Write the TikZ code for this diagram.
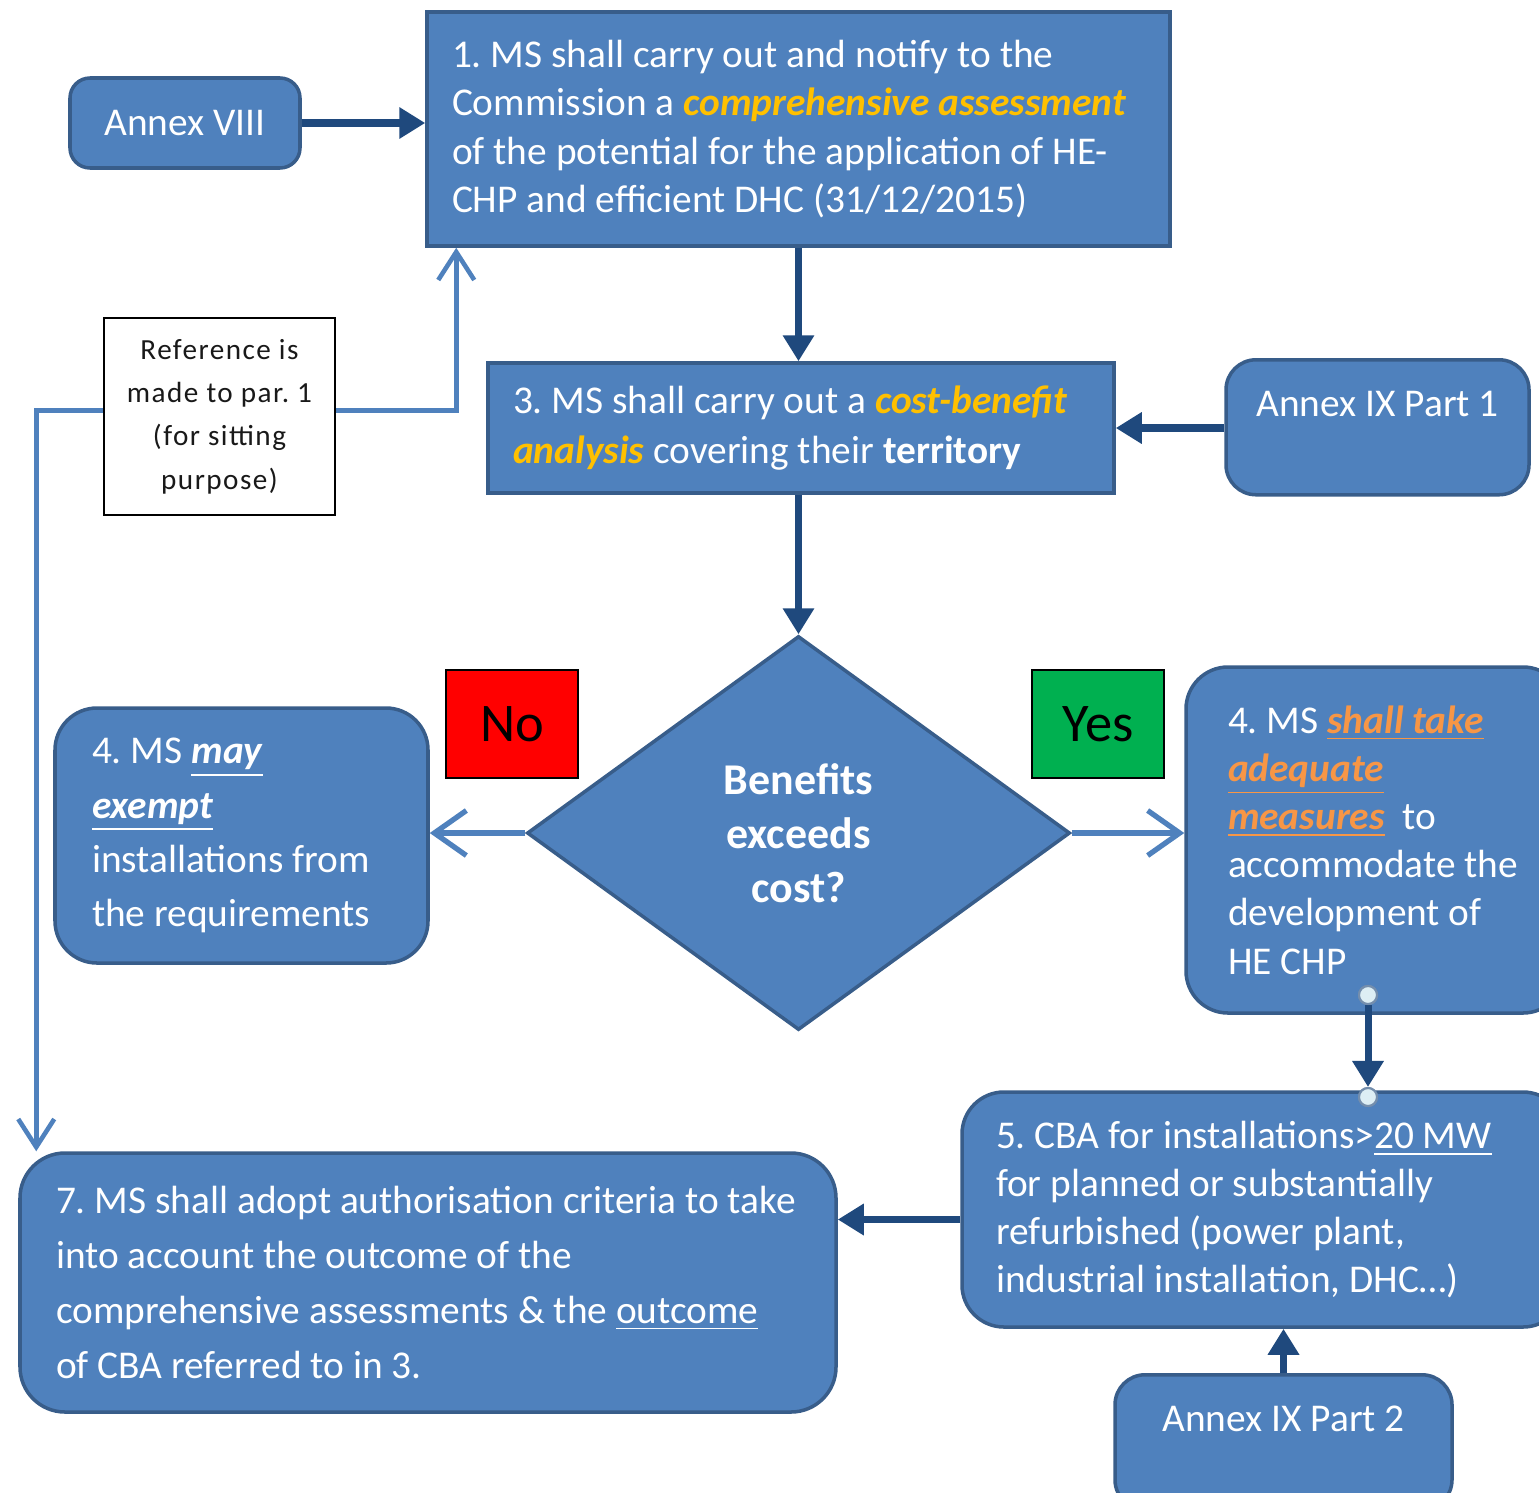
\documentclass[tikz,border=0pt]{standalone}
\usepackage{fontspec}
\setmainfont{Carlito}
\usepackage{tikz}
\usetikzlibrary{arrows.meta,%
                shapes,positioning}
\definecolor{boxblue}{HTML}{4F81BD}
\definecolor{boxline}{HTML}{385D8A}
\definecolor{darkarrow}{HTML}{1F497D}
\definecolor{hlyellow}{HTML}{FFC000}
\definecolor{hlorange}{HTML}{F79646}
\definecolor{nored}{HTML}{FF0000}
\definecolor{yesgreen}{HTML}{00B050}
\definecolor{dotfill}{HTML}{DDEEF4}
\newcommand{\yel}[1]{\textcolor{hlyellow}{\textbf{\textit{#1}}}}
\newcommand{\org}[1]{\textcolor{hlorange}{\underline{\textbf{\textit{#1}}}}}
\frenchspacing

\begin{document}
\begin{tikzpicture}[
auto,
box/.style={draw=boxline,line width=1pt,fill=boxblue,text=white,align=flush left,
  inner ysep=0pt,font=\fontsize{11.2}{13.7}\selectfont},
rbox/.style={box,rounded corners=0.42cm},
annex/.style={box,align=center,rounded corners=0.2cm},
flag/.style={draw=black,line width=0.8pt,minimum width=1.32cm,minimum height=1.08cm,
  font=\fontsize{15.5}{18}\selectfont},
dot/.style={circle,draw=boxline!70,fill=dotfill,line width=0.6pt,minimum size=0.18cm,inner sep=0pt},
flow/.style={darkarrow,line width=2pt,-{Triangle[length=0.26cm,width=0.3cm]}},
lnk/.style={boxblue,line width=1.5pt,-{Straight Barb[length=0.32cm,width=0.45cm]}},
rlnk/.style={boxblue,line width=1.3pt,-{Straight Barb[length=0.28cm,width=0.36cm]}}]
\useasboundingbox (0,0) rectangle (15.39,-14.92);
\clip (0,0) rectangle (15.39,-14.92);
\fill[white] (0,0) rectangle (15.39,-14.92);

\node [annex,minimum width=2.30cm,minimum height=0.90cm] (a8) at (1.85,-1.23) {Annex VIII};
\node [box,text width=6.93cm,inner xsep=0.25cm,minimum height=2.34cm] (b1) at (7.985,-1.29)
  {1. MS shall carry out and notify to the\\
   Commission a \yel{comprehensive assessment}\\
   of the potential for the application of HE-\\
   CHP and efficient DHC (31/12/2015)\\[-0.12cm]};
\node [draw=black,line width=0.8pt,fill=white,text=black!90,minimum width=2.31cm,minimum height=1.97cm,
  align=center,font=\fontsize{8.3}{12.3}\selectfont\addfontfeatures{LetterSpace=5}] (ref) at (2.195,-4.165)
  {Reference is\\ made to par. 1\\ (for sitting\\ purpose)};
\node [box,text width=5.76cm,inner xsep=0.25cm,minimum height=1.30cm,
  font=\fontsize{11.2}{14.2}\selectfont] (b3) at (8.01,-4.28)
  {\mbox{3. MS shall carry out a \yel{cost-benefit}}\\
   \yel{analysis} covering their \textbf{territory}};
\node [annex,anchor=north,rounded corners=0.3cm,minimum width=3.03cm,text height=0.57cm,text depth=0.78cm] (a91)
  at (13.775,-3.58) {Annex IX Part 1};
\node [diamond,draw=boxline,line width=1pt,fill=boxblue,text=white,minimum width=5.43cm,minimum height=3.94cm,
  inner sep=0pt,align=center,font=\bfseries\fontsize{12.5}{15.4}\selectfont] (dec) at (7.985,-8.33)
  {Benefits\\ exceeds\\ cost?};
\node [flag,fill=nored] (no) at (5.12,-7.24) {No};
\node [flag,fill=yesgreen] (yes) at (10.98,-7.24) {Yes};
\node [rbox,text width=2.99cm,inner xsep=0.37cm,minimum height=2.55cm,
  font=\fontsize{11.2}{15.4}\selectfont] (m4) at (2.415,-8.355)
  {4. MS \underline{\textbf{\textit{may}}}\\
   \underline{\textbf{\textit{exempt}}}\\
   installations from\\
   the requirements};
\node [rbox,text width=2.95cm,inner xsep=0.42cm,minimum height=3.46cm] (s4) at (13.755,-8.40)
  {4. MS \org{shall take}\\
   \org{adequate}\\
   \org{measures}\ \ to\\
   accommodate the\\
   development of\\
   HE CHP};
\node [rbox,text width=5.35cm,inner xsep=0.34cm,minimum height=2.35cm,
  font=\fontsize{11.2}{13.6}\selectfont] (b5) at (12.635,-12.095)
  {5. CBA for installations>\underline{20 MW}\\
   for planned or substantially\\
   refurbished (power plant,\\
   industrial installation, DHC\dots)};
\node [annex,anchor=north,rounded corners=0.3cm,minimum width=3.37cm,text height=0.57cm,text depth=0.78cm] (a92)
  at (12.835,-13.73) {Annex IX Part 2};
\node [rbox,rounded corners=0.45cm,text width=7.44cm,inner xsep=0.36cm,minimum height=2.59cm,
  font=\fontsize{11.2}{15.6}\selectfont] (b7) at (4.28,-12.825)
  {\mbox{7. MS shall adopt authorisation criteria to take}\\
   into account the outcome of the\\
   comprehensive assessments \& the \underline{outcome}\\
   of CBA referred to in 3.};
\node [dot] (c1) at (13.68,-9.95) {};
\node [dot] (c2) at (13.68,-10.97) {};

\draw [flow] (a8.east) -- (a8.east -| b1.west);
\draw [flow] (b1.south) -- (b1.south |- b3.north);
\draw [flow] (a91.west |- b3.east) -- (b3.east);
\draw [flow] (dec.north |- b3.south) -- (dec.north);
\draw [lnk] (dec.west) -- (dec.west -| m4.east);
\draw [lnk] (dec.east) -- (dec.east -| s4.west);
\draw [flow] (c1) -- (c2);
\draw [flow] (a92.north) -- (a92.north |- b5.south);
\draw [flow] ([yshift=-0.1cm]b5.west) -- ([yshift=-0.1cm]b5.west -| b7.east);
\draw [rlnk] ([yshift=0.06cm]ref.east) -| ([xshift=0.31cm]b1.south west);
\draw [rlnk] ([yshift=0.06cm]ref.west) -| ([xshift=0.18cm]b7.north west);
\node [dot] at (c1) {};
\node [dot] at (c2) {};
\end{tikzpicture}
\end{document}
